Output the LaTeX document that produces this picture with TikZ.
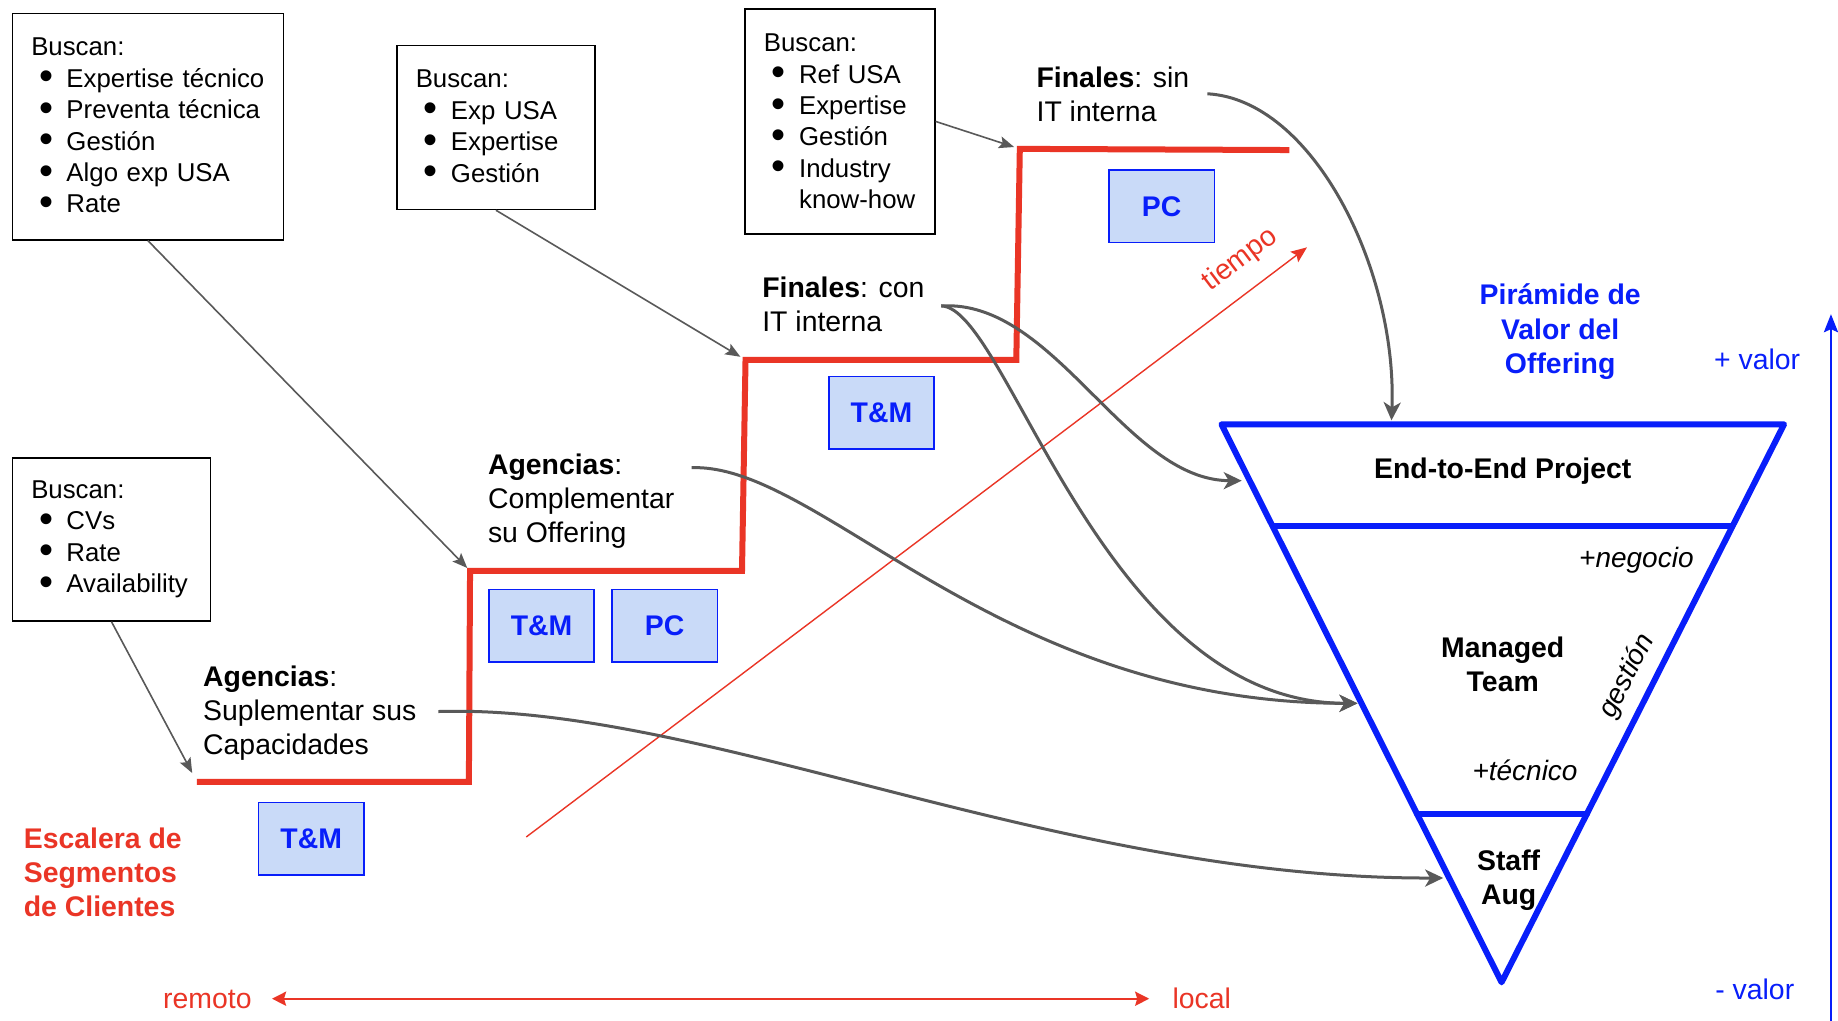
\documentclass[tikz,border=0pt]{standalone}
\usepackage{fontspec}
\setmainfont{Liberation Sans}
\usetikzlibrary{arrows.meta,calc}

\definecolor{segred}{RGB}{234,53,38}
\definecolor{valblue}{RGB}{8,30,250}
\definecolor{tagfill}{RGB}{201,218,248}
\definecolor{linkgray}{RGB}{89,89,89}

% one bulleted line inside a "Buscan" box
\newcommand{\bit}[1]{\hspace*{3.9pt}\makebox[13.7pt][l]{\raisebox{-1.3pt}{\fontsize{20}{15}\selectfont\textbullet}}\mbox{#1}}
\newcommand{\cont}[1]{\hspace*{17.6pt}\mbox{#1}}

\begin{document}
\begin{tikzpicture}[x=0.5861pt,y=-0.5861pt,
  box/.style={draw=black, line width=0.75pt, anchor=north west, align=left,
    inner xsep=9.4pt, inner ysep=0pt, font=\fontsize{12.9}{15.7}\selectfont},
  seglabel/.style={anchor=base west, align=left, inner sep=0pt,
    font=\fontsize{14.2}{17}\selectfont},
  tag/.style={draw=valblue, line width=0.8pt, fill=tagfill, text=valblue,
    minimum width=52.7pt, minimum height=36.3pt, inner sep=0pt,
    font=\fontsize{14.2}{17}\selectfont\bfseries},
  stair/.style={draw=segred, line width=3pt, line join=miter},
  pointer/.style={draw=linkgray, line width=0.8pt,
    -{Stealth[length=7.5pt,width=6pt,inset=1.5pt]}},
  flow/.style={draw=linkgray, line width=1.5pt,
    -{Stealth[length=9pt,width=8.5pt,inset=2.5pt]}},
  pyr/.style={draw=valblue, line width=3pt, line join=round, line cap=round},
  pyrlabel/.style={anchor=base, inner sep=0pt, align=center,
    font=\fontsize{14.2}{17}\selectfont\bfseries},
  pyrnote/.style={inner sep=0pt, font=\fontsize{14}{17}\selectfont\itshape},
  bluetext/.style={inner sep=0pt, text=valblue, font=\fontsize{14.2}{17.3}\selectfont},
  redtext/.style={inner sep=0pt, text=segred, font=\fontsize{14.2}{17}\selectfont}
]
\path[fill=white,use as bounding box] (0,0) rectangle (1568,871);

% ---------- "Buscan" boxes ----------
\node[box, text width=116.6pt, minimum height=113.1pt] (boxA) at (10,11)
  {Buscan:\\ \bit{Expertise técnico}\\ \bit{Preventa técnica}\\ \bit{Gestión}\\ \bit{Algo exp USA}\\ \bit{Rate}};
\node[box, text width=80.2pt, minimum height=82.1pt] (boxB) at (338,38)
  {Buscan:\\ \bit{Exp USA}\\ \bit{Expertise}\\ \bit{Gestión}};
\node[box, text width=76.1pt, minimum height=112.5pt] (boxC) at (635,7)
  {Buscan:\\ \bit{Ref USA}\\ \bit{Expertise}\\ \bit{Gestión}\\ \bit{Industry}\\ \cont{know-how}};
\node[box, text width=80.2pt, minimum height=81.5pt] (boxD) at (10,390)
  {Buscan:\\ \bit{CVs}\\ \bit{Rate}\\ \bit{Availability}};

% ---------- segment labels (placed at the baseline of their last line) ----------
\node[seglabel] (fsin) at (884,104) {\textbf{Finales}: sin\\IT interna};
\node[seglabel] (fcon) at (650,283) {\textbf{Finales}: con\\IT interna};
\node[seglabel] (acomp) at (416,463) {\textbf{Agencias}:\\Complementar\\su Offering};
\node[seglabel] (asup) at (173,644) {\textbf{Agencias}:\\Suplementar sus\\Capacidades};
\node[seglabel, text=segred, font=\fontsize{14.2}{17}\selectfont\bfseries] (escalera) at (20,782)
  {Escalera de\\Segmentos\\de Clientes};

% ---------- offering tags ----------
\node[tag] (tm1) at (265.5,715.5) {T\&M};
\node[tag] (tm2) at (462,534) {T\&M};
\node[tag] (pc2) at (567,534) {PC};
\node[tag] (tm3) at (752,352) {T\&M};
\node[tag] (pc4) at (991,176) {PC};

% ---------- staircase ----------
\coordinate (s1) at (168,667);
\coordinate (s2) at (400,667);
\coordinate (s3) at (401,487);
\coordinate (s4) at (633,487);
\coordinate (s5) at (636,307);
\coordinate (s6) at (867,307);
\coordinate (s7) at (870,127);
\coordinate (s8) at (1100,128);
\draw[stair] (s1) -- (s2) -- (s3) -- (s4) -- (s5) -- (s6) -- (s7) -- (s8);

% ---------- pointers from boxes to steps ----------
\draw[pointer, shorten >=5pt] (boxD.south) -- (s1);
\draw[pointer, shorten >=2pt] (boxA.south) -- (s3);
\draw[pointer, shorten >=3pt] (boxB.south) -- (s5);
\draw[pointer, shorten >=3pt] (boxC.east) -- (s7);

% ---------- time axis ----------
\coordinate (t0) at (449,714);
\coordinate (t1) at (1115,211);
\draw[segred, line width=0.7pt, -{Stealth[length=8pt,width=6.5pt,inset=1.5pt]}] (t0) -- (t1)
  node[redtext, pos=0.938, sloped, above=8.2pt] (tiempo) {tiempo};

% ---------- remote / local axis ----------
\node[redtext, anchor=base east] (remoto) at (215,860) {remoto};
\node[redtext, anchor=base west] (local) at (1000,860) {local};
\draw[segred, line width=1.2pt,
  {Stealth[length=7pt,width=7pt,inset=1pt]}-{Stealth[length=7pt,width=7pt,inset=1pt]},
  shorten <=10pt, shorten >=11.5pt] (remoto.east |- 0,852) -- (local.west |- 0,852);

% ---------- value pyramid ----------
\coordinate (ptl) at (1042,362);
\coordinate (ptr) at (1522,362);
\coordinate (pap) at (1281,838);
\coordinate (l1) at ($(ptl)!0.1828!(pap)$);
\coordinate (r1) at ($(ptr)!0.1828!(pap)$);
\coordinate (l2) at ($(ptl)!0.6975!(pap)$);
\coordinate (r2) at ($(ptr)!0.6975!(pap)$);
\draw[pyr] (ptl) -- (ptr) -- (pap) -- cycle;
\draw[pyr] (l1) -- (r1);
\draw[pyr] (l2) -- (r2);

\node[pyrlabel] (e2e) at (1282,408) {End-to-End Project};
\node[pyrlabel] (mteam) at (1282,590) {Managed\\Team};
\node[pyrlabel] (saug) at (1287,772) {Staff\\Aug};
\node[pyrnote, anchor=base] (negocio) at (1396,484) {+negocio};
\node[pyrnote, anchor=base] (tecnico) at (1301,666) {+técnico};
\node[pyrnote, rotate=63] (gestion) at (1388,577) {gestión};

\node[bluetext, anchor=base, align=center, font=\fontsize{14.2}{17.3}\selectfont\bfseries]
  (titulo) at (1331,319) {Pirámide de\\Valor del\\Offering};
\node[bluetext, anchor=base] (masvalor) at (1499,315) {+ valor};
\node[bluetext, anchor=base] (menosvalor) at (1497,853) {- valor};
\coordinate (vbot) at (1562,871);
\coordinate (vtop) at (1562,268);
\draw[valblue, line width=1.4pt, -{Stealth[length=9pt,width=7pt,inset=1.5pt]}] (vbot) -- (vtop);

% ---------- flows from segments to offerings ----------
\coordinate (fsinout) at (1030,80);
\coordinate (fconout) at (803,261);
\coordinate (acompout) at (590,399);
\coordinate (asupout) at (374,607);
\coordinate (inTop) at ($(ptl)!0.302!(ptr)$);
\coordinate (inE2E) at ($(ptl)!0.101!(pap)$);
\coordinate (inMT) at ($(ptl)!0.5!(pap)$);
\coordinate (inSA) at ($(ptl)!0.813!(pap)$);

\draw[flow, shorten >=2pt] (fsinout) .. controls (1120,85) and (1192,230) .. (inTop);
\draw[flow, shorten >=4pt] (fconout) .. controls (900,255) and (960,410) .. (inE2E);
\draw[flow, shorten >=2pt] (fconout) .. controls (860,262) and (940,600) .. (inMT);
\draw[flow, shorten >=2pt] (acompout) .. controls (700,395) and (850,600) .. (inMT);
\draw[flow, shorten >=3pt] (asupout) .. controls (600,600) and (900,750) .. (inSA);
\end{tikzpicture}
\end{document}
